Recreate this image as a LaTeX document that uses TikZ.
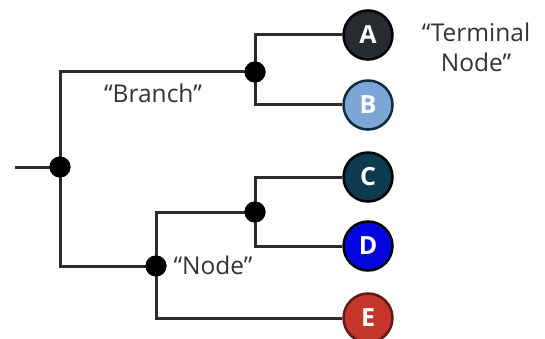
\documentclass[tikz,border=0pt]{standalone}
\usepackage{fontspec}
\setmainfont{Open Sans}
\definecolor{leafA}{HTML}{262A31}
\definecolor{leafB}{HTML}{7DA6D6}
\definecolor{leafC}{HTML}{0C3A50}
\definecolor{leafD}{HTML}{0505E0}
\definecolor{leafE}{HTML}{C4362A}
\definecolor{edge}{HTML}{2B2B2B}
\definecolor{labelgray}{HTML}{333333}
\tikzset{
  branchline/.style={draw=edge, line width=3pt},
  joint/.style={circle, fill=black, inner sep=0pt, minimum size=21pt},
  leaf/.style={circle, minimum size=49pt, inner sep=0pt, line width=2.5pt,
    text=white, font=\fontsize{25}{25}\selectfont\bfseries},
  caption/.style={text=labelgray, font=\fontsize{24.5}{30}\selectfont, align=center},
}
\begin{document}
\begin{tikzpicture}[x=1pt, y=-1pt]
  \useasboundingbox (0,0) rectangle (545,339);
  % internal nodes
  \coordinate (stem) at (15,167);
  \node[joint] (root) at (60,167) {};
  \node[joint] (ab) at (255,72) {};
  \node[joint] (cde) at (156,266) {};
  \node[joint] (cd) at (255,212) {};
  % terminal nodes
  \node[leaf, fill=leafA, draw=black] (A) at (368,35) {A};
  \node[leaf, fill=leafB, draw=leafC!80!black] (B) at (368,105) {B};
  \node[leaf, fill=leafC, draw=black] (C) at (368,177) {C};
  \node[leaf, fill=leafD, draw=black] (D) at (368,246) {D};
  \node[leaf, fill=leafE, draw=leafE!50!black] (E) at (368,318) {E};
  % branches
  \draw[branchline] (stem) -- (root.center);
  \draw[branchline] (ab.center) -| (root.center) |- (cde.center);
  \draw[branchline] (A.west) -| (ab.center) |- (B.west);
  \draw[branchline] (cd.center) -| (cde.center) |- (E.west);
  \draw[branchline] (C.west) -| (cd.center) |- (D.west);
  % joints drawn again on top of the lines
  \node[joint] at (root) {};
  \node[joint] at (ab) {};
  \node[joint] at (cde) {};
  \node[joint] at (cd) {};
  % labels
  \node[caption] (lbranch) at (153,93) {“Branch”};
  \node[caption, anchor=west] (lnode) at (170,265) {“Node”};
  \node[caption] (lterm) at (476,47) {“Terminal\\Node”};
\end{tikzpicture}
\end{document}
